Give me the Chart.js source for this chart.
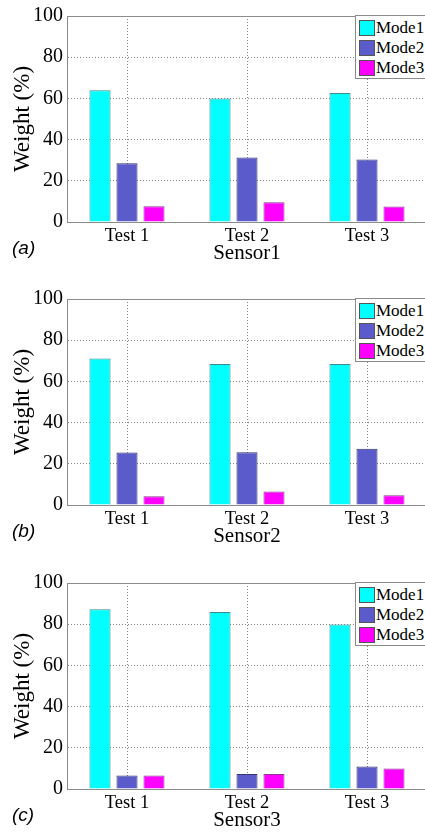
<!DOCTYPE html>
<html>
<head>
<meta charset="utf-8">
<title>Mode weights per sensor</title>
<script src="https://cdn.jsdelivr.net/npm/chart.js@4.4.0/dist/chart.umd.min.js"></script>
<style>
  html, body { margin: 0; padding: 0; background: #fff; width: 425px; height: 833px; overflow: hidden; }
  .panel { position: absolute; left: 0; width: 427px; height: 270px; }
  .panel canvas { position: absolute; left: 0; top: 0; }
  .tag { position: absolute; left: 12px; top: 237px; font: italic 19px 'Liberation Sans', Arial, sans-serif; }
  .legend { position: absolute; left: 355px; top: 15px; width: 90px; height: 62px; background: #fff;
            border: 1px solid #8a8a8a; font: 17px 'Liberation Serif', 'Times New Roman', serif; }
  .legend .row { position: absolute; left: 3px; height: 16px; display: flex; align-items: center; white-space: nowrap; }
  .legend .sw { width: 14px; height: 14px; border: 1px solid #555; margin-right: 1px; }
</style>
</head>
<body>

<div class="panel" style="top:0px">
  <canvas id="chartA" width="427" height="270"></canvas>
  <div class="legend" id="legendA"></div>
  <div class="tag">(a)</div>
</div>
<div class="panel" style="top:283px">
  <canvas id="chartB" width="427" height="270"></canvas>
  <div class="legend" id="legendB"></div>
  <div class="tag">(b)</div>
</div>
<div class="panel" style="top:567px">
  <canvas id="chartC" width="427" height="270"></canvas>
  <div class="legend" id="legendC"></div>
  <div class="tag">(c)</div>
</div>

<script>
// ======================== DATA ========================
const categories = ['Test 1', 'Test 2', 'Test 3'];
const modeNames = ['Mode1', 'Mode2', 'Mode3'];
const yTicks = [0, 20, 40, 60, 80, 100];

const sensor1Mode1 = [64.0, 60.0, 62.6];
const sensor1Mode2 = [28.5, 31.3, 30.3];
const sensor1Mode3 = [7.6, 9.6, 7.5];

const sensor2Mode1 = [71.1, 68.5, 68.5];
const sensor2Mode2 = [25.5, 25.6, 27.3];
const sensor2Mode3 = [4.2, 6.6, 4.7];

const sensor3Mode1 = [87.2, 85.9, 79.9];
const sensor3Mode2 = [6.6, 7.3, 10.9];
const sensor3Mode3 = [6.6, 7.3, 10.0];

const modeFills = ['#00ffff', '#5b5bcb', '#ff00ff'];
const modeEdges = ['#3a8c8c', '#34346e', '#8a3a8a'];

// ======================== DEFAULTS ========================
Chart.defaults.font.family = "'Liberation Serif', 'Times New Roman', serif";
Chart.defaults.color = '#000';
Chart.defaults.animation = false;

const AXIS_GRAY = '#8c8c8c';
const GRID_GRAY = '#858585';

// solid box edges: top, left and bottom (the right one is off the page)
const axesBox = {
  id: 'axesBox',
  afterDraw(chart) {
    const { ctx, chartArea } = chart;
    ctx.save();
    ctx.strokeStyle = AXIS_GRAY;
    ctx.lineWidth = 1;
    ctx.beginPath();
    ctx.moveTo(chartArea.right, chartArea.top + 0.5);
    ctx.lineTo(chartArea.left + 0.5, chartArea.top + 0.5);
    ctx.lineTo(chartArea.left + 0.5, chartArea.bottom + 0.5);
    ctx.lineTo(chartArea.right, chartArea.bottom + 0.5);
    ctx.stroke();
    ctx.restore();
  }
};

// ======================== LEGEND ========================
function buildLegend(id) {
  const box = document.getElementById(id);
  modeNames.forEach((name, i) => {
    const row = document.createElement('div');
    row.className = 'row';
    row.style.top = (4 + i * 20) + 'px';
    const sw = document.createElement('span');
    sw.className = 'sw';
    sw.style.background = modeFills[i];
    const label = document.createElement('span');
    label.textContent = name;
    row.appendChild(sw);
    row.appendChild(label);
    box.appendChild(row);
  });
}

// ======================== PANELS ========================
function makePanel(canvasId, sensorName, series) {
  const ctx = document.getElementById(canvasId).getContext('2d');
  return new Chart(ctx, {
    type: 'bar',
    data: {
      labels: categories,
      datasets: series.map((values, i) => ({
        label: modeNames[i],
        data: values,
        backgroundColor: modeFills[i],
        borderColor: modeEdges[i],
        borderWidth: 1,
        categoryPercentage: 0.675,
        barPercentage: 0.78
      }))
    },
    options: {
      responsive: false,
      layout: { padding: { top: 16, left: 0, right: 0, bottom: 0 } },
      plugins: { legend: { display: false }, tooltip: { enabled: false } },
      scales: {
        x: {
          offset: true,
          grid: { offset: false, drawTicks: false, color: GRID_GRAY, lineWidth: 1 },
          border: { color: AXIS_GRAY, dash: [1, 2] },
          ticks: { font: { size: 18.5 }, padding: 3 },
          title: { display: true, text: sensorName, font: { size: 21 }, padding: { top: 0, bottom: 4 } },
          afterFit(scale) { scale.height = 48; }
        },
        y: {
          min: 0,
          max: 100,
          afterBuildTicks(scale) { scale.ticks = yTicks.map(v => ({ value: v })); },
          grid: { drawTicks: false, color: GRID_GRAY, lineWidth: 1 },
          border: { color: AXIS_GRAY, dash: [1, 2] },
          ticks: { font: { size: 20 }, padding: 4 },
          title: { display: true, text: 'Weight (%)', font: { size: 23 }, padding: { top: 9, bottom: 0 } },
          afterFit(scale) { scale.width = 67; }
        }
      }
    },
    plugins: [axesBox]
  });
}

buildLegend('legendA');
buildLegend('legendB');
buildLegend('legendC');

makePanel('chartA', 'Sensor1', [sensor1Mode1, sensor1Mode2, sensor1Mode3]);
makePanel('chartB', 'Sensor2', [sensor2Mode1, sensor2Mode2, sensor2Mode3]);
makePanel('chartC', 'Sensor3', [sensor3Mode1, sensor3Mode2, sensor3Mode3]);
</script>
</body>
</html>
